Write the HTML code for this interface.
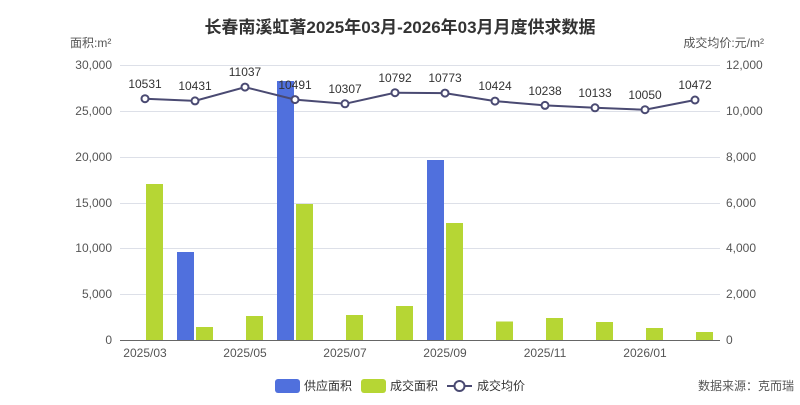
<!DOCTYPE html>
<html><head><meta charset="utf-8"><style>
body{margin:0;background:#fff;}
text{font-family:"Liberation Sans","Noto Sans CJK SC",sans-serif;}
</style></head><body>
<svg width="800" height="400" xmlns="http://www.w3.org/2000/svg">
<text x="400" y="33" text-anchor="middle" font-size="17" font-weight="bold" fill="#333">长春南溪虹著2025年03月-2026年03月月度供求数据</text>
<text x="70" y="47" font-size="12" fill="#555">面积:m²</text>
<text x="764" y="47" font-size="12" fill="#555" text-anchor="end">成交均价:元/m²</text>
<g stroke="#dde0e8" stroke-width="1">
<line x1="120" y1="65.5" x2="720" y2="65.5"/><line x1="120" y1="111.5" x2="720" y2="111.5"/>
<line x1="120" y1="157.5" x2="720" y2="157.5"/><line x1="120" y1="203.5" x2="720" y2="203.5"/>
<line x1="120" y1="248.5" x2="720" y2="248.5"/><line x1="120" y1="294.5" x2="720" y2="294.5"/>
</g>
<line x1="120" y1="340.5" x2="720" y2="340.5" stroke="#666"/>
<g font-size="12" fill="#555" text-anchor="end">
<text x="112" y="69">30,000</text><text x="112" y="115">25,000</text><text x="112" y="161">20,000</text>
<text x="112" y="207">15,000</text><text x="112" y="252">10,000</text><text x="112" y="298">5,000</text><text x="112" y="344">0</text>
</g>
<g font-size="12" fill="#555">
<text x="726" y="69">12,000</text><text x="726" y="115">10,000</text><text x="726" y="161">8,000</text>
<text x="726" y="207">6,000</text><text x="726" y="252">4,000</text><text x="726" y="298">2,000</text><text x="726" y="344">0</text>
</g>
<g font-size="12" fill="#555" text-anchor="middle">
<text x="145" y="357">2025/03</text><text x="245" y="357">2025/05</text><text x="345" y="357">2025/07</text>
<text x="445" y="357">2025/09</text><text x="545" y="357">2025/11</text><text x="645" y="357">2026/01</text>
</g>
<g fill="#5070dd">
<rect x="177" y="252" width="17" height="88"/>
<rect x="277" y="81" width="17" height="259"/>
<rect x="427" y="160" width="17" height="180"/>
</g>
<g fill="#b6d634">
<rect x="146" y="184" width="17" height="156"/>
<rect x="196" y="327" width="17" height="13"/>
<rect x="246" y="316" width="17" height="24"/>
<rect x="296" y="204" width="17" height="136"/>
<rect x="346" y="315" width="17" height="25"/>
<rect x="396" y="306" width="17" height="34"/>
<rect x="446" y="223" width="17" height="117"/>
<rect x="496" y="321.5" width="17" height="18.5"/>
<rect x="546" y="318" width="17" height="22"/>
<rect x="596" y="322" width="17" height="18"/>
<rect x="646" y="328" width="17" height="12"/>
<rect x="696" y="332" width="17" height="8"/>
</g>
<polyline fill="none" stroke="#4a4a72" stroke-width="2" points="145,98.7 195,100.9 245,87.1 295,99.6 345,103.8 395,92.7 445,93.1 495,101.1 545,105.4 595,107.8 645,109.7 695,100"/>
<g fill="#fff" stroke="#4a4a72" stroke-width="2">
<circle cx="145" cy="98.7" r="3.5"/><circle cx="195" cy="100.9" r="3.5"/><circle cx="245" cy="87.1" r="3.5"/>
<circle cx="295" cy="99.6" r="3.5"/><circle cx="345" cy="103.8" r="3.5"/><circle cx="395" cy="92.7" r="3.5"/>
<circle cx="445" cy="93.1" r="3.5"/><circle cx="495" cy="101.1" r="3.5"/><circle cx="545" cy="105.4" r="3.5"/>
<circle cx="595" cy="107.8" r="3.5"/><circle cx="645" cy="109.7" r="3.5"/><circle cx="695" cy="100" r="3.5"/>
</g>
<g font-size="12" fill="#333" text-anchor="middle">
<text x="145" y="88">10531</text><text x="195" y="90">10431</text><text x="245" y="76">11037</text>
<text x="295" y="89">10491</text><text x="345" y="93">10307</text><text x="395" y="82">10792</text>
<text x="445" y="82">10773</text><text x="495" y="90">10424</text><text x="545" y="95">10238</text>
<text x="595" y="97">10133</text><text x="645" y="99">10050</text><text x="695" y="89">10472</text>
</g>
<rect x="275" y="379" width="25" height="14" rx="3" fill="#5070dd"/>
<text x="304" y="390" font-size="12" fill="#333">供应面积</text>
<rect x="361" y="379" width="25" height="14" rx="3" fill="#b6d634"/>
<text x="390" y="390" font-size="12" fill="#333">成交面积</text>
<line x1="447" y1="386" x2="472" y2="386" stroke="#4a4a72" stroke-width="2"/>
<circle cx="459.5" cy="386" r="5" fill="#fff" stroke="#4a4a72" stroke-width="2"/>
<text x="477" y="390" font-size="12" fill="#333">成交均价</text>
<text x="794" y="390" font-size="12" fill="#555" text-anchor="end">数据来源：克而瑞</text>
</svg>
</body></html>
